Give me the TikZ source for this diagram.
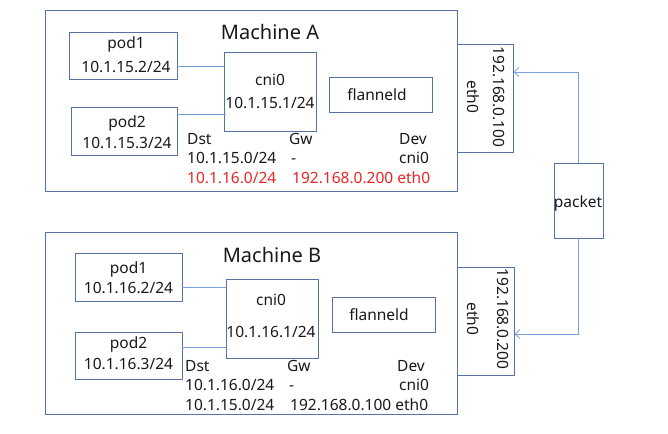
\documentclass[tikz,border=0pt]{standalone}
\usepackage{fontspec}
\setmainfont{Noto Sans}
\usetikzlibrary{arrows.meta}
\definecolor{boxc}{RGB}{85,115,165}
\definecolor{linec}{RGB}{120,160,220}
\definecolor{redc}{RGB}{232,38,38}
\definecolor{txtc}{RGB}{25,25,25}
\begin{document}
\begin{tikzpicture}[x=1pt,y=-1pt,
  box/.style={draw=boxc,line width=0.8pt,inner sep=0,minimum width=#1},
  txt/.style={inner sep=0,align=center,font=\fontsize{15.5}{#1}\selectfont,text=txtc},
  tab/.style={inner sep=0,anchor=west,font=\fontsize{15.5}{18}\selectfont,text height=11pt,text depth=3pt,text=txtc},
  ttl/.style={inner sep=0,font=\fontsize{20}{24}\selectfont,text=txtc},
  conn/.style={draw=linec,line width=0.8pt}]
\useasboundingbox (0,0) rectangle (668,433);
% machine boxes
\node[box=412pt,minimum height=181pt] (mA) at (251,100.5) {};
\node[box=412pt,minimum height=182pt] (mB) at (251,323) {};
\node[ttl] (tA) at (270,32) {Machine A};
\node[ttl] (tB) at (272,255) {Machine B};
% Machine A
\node[box=108pt,minimum height=47pt] (pA1) at (123,55.5) {};
\node[txt=24pt] (pA1t) at (126,55) {pod1\\10.1.15.2/24};
\node[box=106pt,minimum height=48pt] (pA2) at (124,131) {};
\node[txt=21pt] (pA2t) at (127,132.5) {pod2\\10.1.15.3/24};
\node[box=92pt,minimum height=79pt] (cA) at (270,91.5) {};
\node[txt=23pt] (cAt) at (270,91.5) {cni0\\10.1.15.1/24};
\node[box=103pt,minimum height=35pt] (fA) at (380.5,94.5) {};
\node[txt=18pt] (fAt) at (377,94.5) {flanneld};
\node[box=56pt,minimum height=108pt] (eA) at (485,98) {};
\node[txt=26pt,rotate=-90] (eAt) at (486,97) {192.168.0.100\\eth0};
\node[tab] (dA) at (187,140) {Dst};
\node[tab] (gA) at (289,140) {Gw};
\node[tab] (vA) at (399,140) {Dev};
\node[tab] (r1a) at (187,159.5) {10.1.15.0/24};
\node[tab] (r1b) at (291,159.5) {-};
\node[tab] (r1c) at (399,159.5) {cni0};
\node[tab,text=redc] (r2a) at (187,179) {10.1.16.0/24};
\node[tab,text=redc] (r2b) at (292,179) {192.168.0.200 eth0};
% Machine B
\node[box=107pt,minimum height=48pt] (pB1) at (128.5,277) {};
\node[txt=20pt] (pB1t) at (128.5,278) {pod1\\10.1.16.2/24};
\node[box=107pt,minimum height=47pt] (pB2) at (128.5,355.5) {};
\node[txt=21pt] (pB2t) at (128.5,353.5) {pod2\\10.1.16.3/24};
\node[box=92pt,minimum height=79pt] (cB) at (272,318.5) {};
\node[txt=32pt] (cBt) at (271,316) {cni0\\10.1.16.1/24};
\node[box=103pt,minimum height=35pt] (fB) at (383.5,314.5) {};
\node[txt=18pt] (fBt) at (379,315) {flanneld};
\node[box=57pt,minimum height=108pt] (eB) at (485.5,321) {};
\node[txt=30pt,rotate=-90] (eBt) at (488,319) {192.168.0.200\\eth0};
\node[tab] (dB) at (185,367) {Dst};
\node[tab] (gB) at (287,367) {Gw};
\node[tab] (vB) at (397,367) {Dev};
\node[tab] (s1a) at (185,386.5) {10.1.16.0/24};
\node[tab] (s1b) at (289,386.5) {-};
\node[tab] (s1c) at (399,386.5) {cni0};
\node[tab] (s2a) at (185,406) {10.1.15.0/24};
\node[tab] (s2b) at (290,406) {192.168.0.100 eth0};
% packet
\node[box=49pt,minimum height=75pt] (pk) at (578.5,200.5) {};
\node[txt=18pt] (pkt) at (578,203) {packet};
% connectors
\coordinate (yA1) at (0,66);
\coordinate (yA2) at (0,114);
\coordinate (yB1) at (0,287);
\coordinate (yB2) at (0,347);
\coordinate (yup) at (0,72);
\coordinate (ydn) at (0,334);
\draw[conn] (pA1.east |- yA1) -- (cA.west |- yA1);
\draw[conn] (pA2.east |- yA2) -- ([xshift=2pt]cA.west |- yA2);
\draw[conn] (pB1.east |- yB1) -- (cB.west |- yB1);
\draw[conn] (pB2.east |- yB2) -- (cB.west |- yB2);
\draw[conn,-{Straight Barb[length=5pt,width=9pt]}] (pk.north) |- (eA.east |- yup);
\draw[conn,-{Straight Barb[length=5pt,width=9pt]}] (pk.south) |- (eB.east |- ydn);
\end{tikzpicture}
\end{document}
